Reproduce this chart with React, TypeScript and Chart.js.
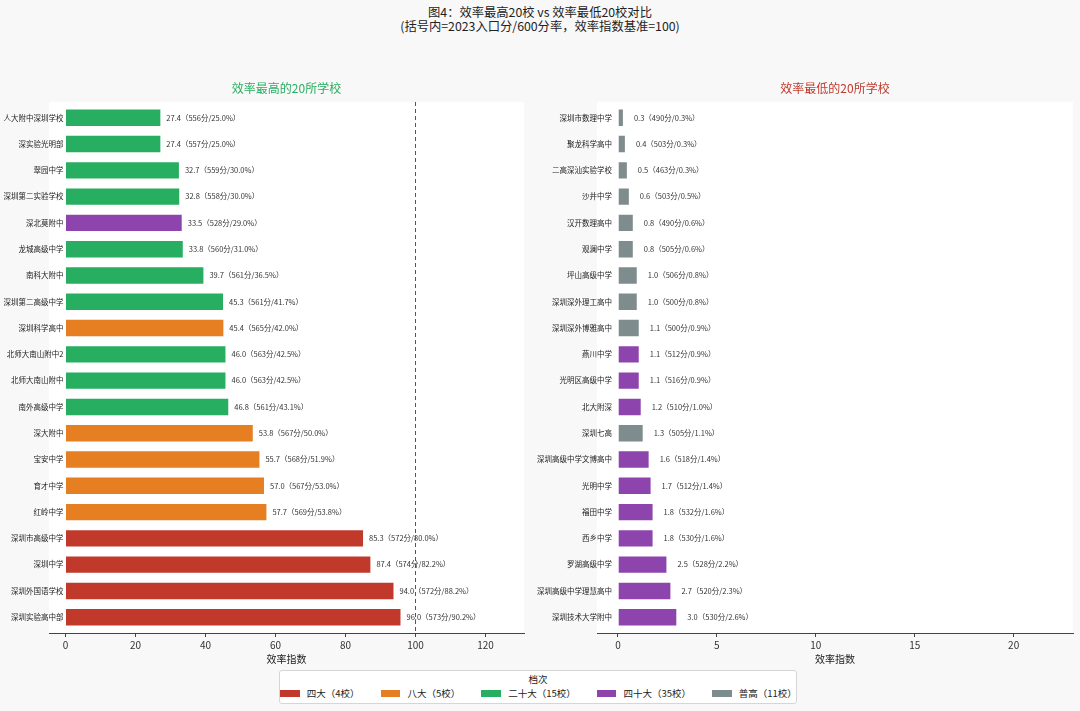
import { useEffect, useRef } from "react";
import { Chart, registerables } from "chart.js";

Chart.register(...registerables);

const FONT = '"Noto Sans CJK SC", "Noto Sans", sans-serif';
Chart.defaults.font.family = FONT;

// 档次颜色
const tierColors: Record<string, string> = {
  四大: "#c0392b",
  八大: "#e67e22",
  二十大: "#27ae60",
  四十大: "#8e44ad",
  普高: "#7f8c8d",
};

const legendTiers = ["四大", "八大", "二十大", "四十大", "普高"];
const legendCounts = [4, 5, 15, 35, 11];

// 效率最高的20所学校
const topNames = [
  "人大附中深圳学校", "深实验光明部", "翠园中学", "深圳第二实验学校", "深北莫附中",
  "龙城高级中学", "南科大附中", "深圳第二高级中学", "深圳科学高中", "北师大南山附中2",
  "北师大南山附中", "南外高级中学", "深大附中", "宝安中学", "育才中学",
  "红岭中学", "深圳市高级中学", "深圳中学", "深圳外国语学校", "深圳实验高中部",
];
const topValues = [27.4, 27.4, 32.7, 32.8, 33.5, 33.8, 39.7, 45.3, 45.4, 46.0, 46.0, 46.8, 53.8, 55.7, 57.0, 57.7, 85.3, 87.4, 94.0, 96.0];
const topScores = [556, 557, 559, 558, 528, 560, 561, 561, 565, 563, 563, 561, 567, 568, 567, 569, 572, 574, 572, 573];
const topRates = [25.0, 25.0, 30.0, 30.0, 29.0, 31.0, 36.5, 41.7, 42.0, 42.5, 42.5, 43.1, 50.0, 51.9, 53.0, 53.8, 80.0, 82.2, 88.2, 90.2];
const topTiers = [
  "二十大", "二十大", "二十大", "二十大", "四十大", "二十大", "二十大", "二十大", "八大", "二十大",
  "二十大", "二十大", "八大", "八大", "八大", "八大", "四大", "四大", "四大", "四大",
];
const topTicks = [0, 20, 40, 60, 80, 100, 120];

// 效率最低的20所学校
const lowNames = [
  "深圳市数理中学", "聚龙科学高中", "二高深汕实验学校", "沙井中学", "汉开数理高中",
  "观澜中学", "坪山高级中学", "深圳深外理工高中", "深圳深外博雅高中", "燕川中学",
  "光明区高级中学", "北大附深", "深圳七高", "深圳高级中学文博高中", "光明中学",
  "福田中学", "西乡中学", "罗湖高级中学", "深圳高级中学理慧高中", "深圳技术大学附中",
];
const lowValues = [0.3, 0.4, 0.5, 0.6, 0.8, 0.8, 1.0, 1.0, 1.1, 1.1, 1.1, 1.2, 1.3, 1.6, 1.7, 1.8, 1.8, 2.5, 2.7, 3.0];
const lowScores = [490, 503, 463, 503, 490, 505, 506, 500, 500, 512, 516, 510, 505, 518, 512, 532, 530, 528, 520, 530];
const lowRates = [0.3, 0.3, 0.3, 0.5, 0.6, 0.6, 0.8, 0.8, 0.9, 0.9, 0.9, 1.0, 1.1, 1.4, 1.4, 1.6, 1.6, 2.2, 2.3, 2.6];
const lowTiers = [
  "普高", "普高", "普高", "普高", "普高", "普高", "普高", "普高", "普高", "四十大",
  "四十大", "四十大", "普高", "四十大", "四十大", "四十大", "四十大", "四十大", "四十大", "四十大",
];
const lowTicks = [0, 5, 10, 15, 20];

type PanelProps = {
  names: string[];
  values: number[];
  scores: number[];
  rates: number[];
  tiers: string[];
  ticks: number[];
  xMin: number;
  xMax: number;
  title: string;
  titleColor: string;
  width: number;
  padLeft: number;
  padRight: number;
  nameGap: number;
  valueGap: number;
  refLine?: number;
};

function Panel(p: PanelProps) {
  const canvasRef = useRef<HTMLCanvasElement | null>(null);

  useEffect(() => {
    if (!canvasRef.current) return;

    const textPlugin = {
      id: "panelText",
      beforeDraw(chart: any) {
        const { ctx, chartArea } = chart;
        ctx.save();
        ctx.fillStyle = "#ffffff";
        ctx.fillRect(chartArea.left, chartArea.top, chartArea.right - chartArea.left, chartArea.bottom - chartArea.top);
        ctx.restore();
      },
      afterDatasetsDraw(chart: any) {
        const { ctx, chartArea } = chart;
        const xs = chart.scales.x;
        const ys = chart.scales.y;
        const x0 = xs.getPixelForValue(0);
        ctx.save();
        ctx.font = `7.5px ${FONT}`;
        ctx.textBaseline = "middle";
        p.names.forEach((name, i) => {
          const y = ys.getPixelForValue(i);
          ctx.fillStyle = "#222";
          ctx.textAlign = "right";
          ctx.fillText(name, x0 - p.nameGap, y);
          ctx.textAlign = "left";
          ctx.fillStyle = "#333";
          const label = `${p.values[i].toFixed(1)}（${p.scores[i]}分/${p.rates[i].toFixed(1)}%）`;
          ctx.fillText(label, xs.getPixelForValue(p.values[i]) + p.valueGap, y);
        });
        if (p.refLine !== undefined) {
          const xr = Math.round(xs.getPixelForValue(p.refLine)) + 0.5;
          ctx.strokeStyle = "#555";
          ctx.lineWidth = 1;
          ctx.setLineDash([4, 3]);
          ctx.beginPath();
          ctx.moveTo(xr, chartArea.top);
          ctx.lineTo(xr, chartArea.bottom);
          ctx.stroke();
        }
        ctx.restore();
      },
    };

    const chart = new Chart(canvasRef.current, {
      type: "bar",
      data: {
        datasets: [
          {
            data: p.values.map((v, i) => ({ x: v, y: i })),
            backgroundColor: p.tiers.map((t) => tierColors[t]),
            borderColor: "rgba(255,255,255,0.8)",
            borderWidth: 1,
            barPercentage: 0.7,
            categoryPercentage: 1,
          },
        ],
      },
      options: {
        indexAxis: "y",
        animation: false,
        responsive: false,
        layout: { padding: { left: p.padLeft, right: p.padRight, top: 0, bottom: 3 } },
        plugins: {
          legend: { display: false },
          tooltip: { enabled: false },
          title: {
            display: true,
            text: p.title,
            color: p.titleColor,
            font: { size: 12, weight: "normal" },
            padding: { top: 11, bottom: 6.6 },
          },
        },
        scales: {
          y: {
            type: "linear",
            display: false,
            offset: false,
            reverse: true,
            min: -0.6,
            max: p.names.length - 0.4,
            afterBuildTicks: (scale: any) => {
              scale.ticks = p.names.map((_, i) => ({ value: i }));
            },
          },
          x: {
            type: "linear",
            min: p.xMin,
            max: p.xMax,
            afterBuildTicks: (scale: any) => {
              scale.ticks = p.ticks.map((v) => ({ value: v }));
            },
            afterFit: (scale: any) => {
              scale.height = 34;
            },
            grid: { drawOnChartArea: false, drawTicks: true, tickLength: 4, color: "#444" },
            border: { display: true, color: "#444", width: 1 },
            ticks: { color: "#333", font: { size: 10 }, padding: 2 },
            title: {
              display: true,
              text: "效率指数",
              color: "#222",
              font: { size: 10 },
              padding: { top: 0, bottom: 2 },
            },
          },
        },
      },
      plugins: [textPlugin],
    } as any);

    return () => chart.destroy();
  }, []);

  return <canvas ref={canvasRef} width={p.width} height={600} />;
}

export default function App() {
  return (
    <div
      style={{
        position: "absolute",
        left: 0,
        top: 0,
        width: 1080,
        height: 711,
        background: "#f8f8f8",
        fontFamily: FONT,
        overflow: "hidden",
      }}
    >
      <div
        style={{
          position: "absolute",
          top: 5,
          left: 0,
          width: 1080,
          textAlign: "center",
          fontSize: 12.3,
          lineHeight: "14px",
          color: "#222",
        }}
      >
        <div>图4：效率最高20校 vs 效率最低20校对比</div>
        <div>(括号内=2023入口分/600分率，效率指数基准=100)</div>
      </div>
      <div style={{ position: "absolute", left: 0, top: 70 }}>
        <Panel
          names={topNames}
          values={topValues}
          scores={topScores}
          rates={topRates}
          tiers={topTiers}
          ticks={topTicks}
          xMin={-4.7}
          xMax={131}
          title="效率最高的20所学校"
          titleColor="#27ae60"
          width={540}
          padLeft={49}
          padRight={16}
          nameGap={2}
          valueGap={5}
          refLine={100}
        />
      </div>
      <div style={{ position: "absolute", left: 525, top: 70 }}>
        <Panel
          names={lowNames}
          values={lowValues}
          scores={lowScores}
          rates={lowRates}
          tiers={lowTiers}
          ticks={lowTicks}
          xMin={-1.06}
          xMax={23}
          title="效率最低的20所学校"
          titleColor="#c0392b"
          width={555}
          padLeft={72}
          padRight={7}
          nameGap={6}
          valueGap={10}
        />
      </div>
      <div
        style={{
          position: "absolute",
          left: 279,
          top: 670,
          width: 518,
          height: 34,
          boxSizing: "border-box",
          background: "#ffffff",
          border: "1px solid #d6d6d6",
          borderRadius: 3,
          fontSize: 9.5,
          color: "#222",
        }}
      >
        <div style={{ textAlign: "center", marginTop: 2, lineHeight: "13px" }}>档次</div>
        <div style={{ display: "flex", justifyContent: "center", gap: 22, lineHeight: "13px", marginTop: 1 }}>
          {legendTiers.map((t, i) => (
            <div key={t} style={{ display: "flex", alignItems: "center" }}>
              <span style={{ display: "inline-block", width: 20, height: 7, background: tierColors[t], marginRight: 7 }} />
              <span>{`${t}（${legendCounts[i]}校）`}</span>
            </div>
          ))}
        </div>
      </div>
    </div>
  );
}
